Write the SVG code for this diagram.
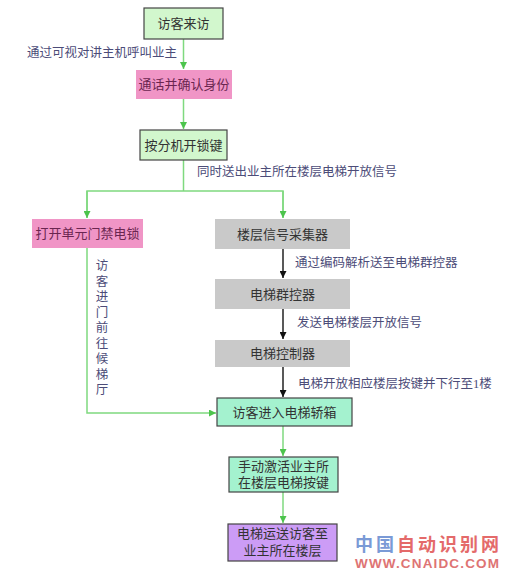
<svg xmlns="http://www.w3.org/2000/svg" width="528" height="587" viewBox="0 0 528 587">
<style>
.n{font-family:"Liberation Serif","Noto Sans CJK SC",serif;font-size:13px;fill:#333;text-anchor:middle;dominant-baseline:central}
.pk{fill:#6a2650}
.lb{font-family:"Liberation Serif","Noto Sans CJK SC",serif;font-size:12.5px;fill:#4c4c78;dominant-baseline:central}
.g{fill:#d2f7cd;stroke:#444;stroke-width:1.2}
.p{fill:#f095c6}
.gr{fill:#c9c9c9}
.m{fill:#a4f2cf;stroke:#444;stroke-width:1.2}
.v{fill:#cc9cf6;stroke:#444;stroke-width:1.2}
.gl{stroke:#7fd97f;stroke-width:1.5;fill:none}
.bl{stroke:#222;stroke-width:1.5;fill:none}
</style>
<defs>
<marker id="ag" viewBox="0 0 10 10" refX="10" refY="5" markerWidth="7" markerHeight="7" orient="auto" markerUnits="userSpaceOnUse"><path d="M0,0L10,5L0,10z" fill="#4cc44c"/></marker>
<marker id="ab" viewBox="0 0 10 10" refX="10" refY="5" markerWidth="7" markerHeight="7" orient="auto" markerUnits="userSpaceOnUse"><path d="M0,0L10,5L0,10z" fill="#111"/></marker>
</defs>
<rect width="528" height="587" fill="#fff"/>
<g id="connectors">
<path class="gl" d="M183.5,39V69" marker-end="url(#ag)"/>
<path class="gl" d="M183.5,99V129" marker-end="url(#ag)"/>
<path class="gl" d="M183.5,160V191"/>
<path class="gl" d="M87,218V191H283V218" />
<path class="gl" d="M87,191V218" marker-end="url(#ag)"/>
<path class="gl" d="M283,191V218" marker-end="url(#ag)"/>
<path class="bl" d="M283,249V278" marker-end="url(#ab)"/>
<path class="bl" d="M283,309V339" marker-end="url(#ab)"/>
<path class="bl" d="M283,367V397" marker-end="url(#ab)"/>
<path class="gl" d="M87,248V413H216" marker-end="url(#ag)"/>
<path class="gl" d="M283,426V456" marker-end="url(#ag)"/>
<path class="gl" d="M283,492V523" marker-end="url(#ag)"/>
<text class="lb" x="27" y="53">通过可视对讲主机呼叫业主</text>
<text class="lb" x="197" y="172">同时送出业主所在楼层电梯开放信号</text>
<text class="lb" x="295" y="263">通过编码解析送至电梯群控器</text>
<text class="lb" x="297" y="323">发送电梯楼层开放信号</text>
<text class="lb" x="298" y="384">电梯开放相应楼层按键并下行至1楼</text>
<g class="lb" text-anchor="middle">
<text x="102" y="266" text-anchor="middle">访</text>
<text x="102" y="281.5" text-anchor="middle">客</text>
<text x="102" y="297" text-anchor="middle">进</text>
<text x="102" y="312.5" text-anchor="middle">门</text>
<text x="102" y="328" text-anchor="middle">前</text>
<text x="102" y="343.5" text-anchor="middle">往</text>
<text x="102" y="359" text-anchor="middle">候</text>
<text x="102" y="374.5" text-anchor="middle">梯</text>
<text x="102" y="390" text-anchor="middle">厅</text>
</g>
</g>
<g id="n1"><rect class="g" x="144" y="8" width="79" height="31"/><text class="n" x="183.5" y="23.5">访客来访</text></g>
<g id="n2"><rect class="p" x="136" y="70" width="96" height="29"/><text class="n pk" x="184" y="84.5">通话并确认身份</text></g>
<g id="n3"><rect class="g" x="140" y="130" width="87" height="30"/><text class="n" x="183.5" y="145">按分机开锁键</text></g>
<g id="n4"><rect class="p" x="32" y="219" width="111" height="29"/><text class="n pk" x="87.5" y="233.5">打开单元门禁电锁</text></g>
<g id="n5"><rect class="gr" x="215" y="219" width="135" height="30"/><text class="n" x="282.5" y="234">楼层信号采集器</text></g>
<g id="n6"><rect class="gr" x="215" y="279" width="135" height="30"/><text class="n" x="282.5" y="294">电梯群控器</text></g>
<g id="n7"><rect class="gr" x="215" y="340" width="135" height="27"/><text class="n" x="282.5" y="353.5">电梯控制器</text></g>
<g id="n8"><rect class="m" x="217" y="398" width="135" height="28"/><text class="n" x="284.5" y="412">访客进入电梯轿箱</text></g>
<g id="n9"><rect class="m" x="229" y="457" width="109" height="35"/><text class="n" x="283.5" y="466">手动激活业主所</text><text class="n" x="283.5" y="482">在楼层电梯按键</text></g>
<g id="n10"><rect class="v" x="228" y="524" width="109" height="37"/><text class="n" x="282.5" y="533.5">电梯运送访客至</text><text class="n" x="282.5" y="550">业主所在楼层</text></g>
<g id="watermark" font-family="'Noto Sans CJK SC',sans-serif" font-weight="bold">
<text x="355" y="551" font-size="18" letter-spacing="3" fill="#7a9ad6">中国<tspan fill="#e46a6a">自动识别网</tspan></text>
<text x="355" y="568" font-size="13.5" font-family="'Liberation Sans',sans-serif" fill="#de7474" textLength="144">WWW.CNAIDC.COM</text>
</g>
</svg>
